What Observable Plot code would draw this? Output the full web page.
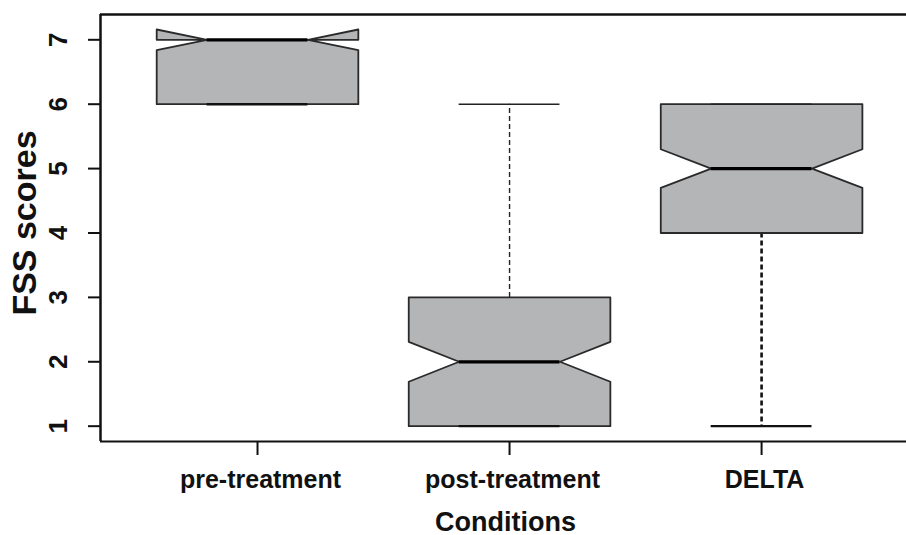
<!DOCTYPE html>
<html>
<head>
<meta charset="utf-8">
<script src="https://cdn.jsdelivr.net/npm/d3@7"></script>
<script src="https://cdn.jsdelivr.net/npm/@observablehq/plot@0.6"></script>
<style>
  html, body { margin: 0; padding: 0; background: #fff; }
  #chart svg { display: block; }
</style>
</head>
<body>
<div id="chart"></div>
<script>
// ---- data ----
const conditions  = ["pre-treatment", "post-treatment", "DELTA"];
const q1          = [6, 1, 4];
const medians     = [7, 2, 5];
const q3          = [7, 3, 6];
const whiskerLow  = [6, 1, 1];
const whiskerHigh = [7, 6, 6];
const notchLow    = [6.84, 1.69, 4.70];
const notchHigh   = [7.16, 2.31, 5.30];
const yTicks      = [1, 2, 3, 4, 5, 6, 7];
const xLabel = "Conditions";
const yLabel = "FSS scores";

// ---- layout / style constants ----
const halfW = 0.4;      // half box width (x units)
const notchFrac = 0.5;  // notch inner width fraction
const stapleHalf = 0.2;
const xDomain = [0.377, 3.575];
const yDomain = [0.762, 7.393];
const font = "Liberation Sans, Arial, Helvetica, sans-serif";
const boxFill = "#b4b5b7";

const idx = conditions.map((_, i) => i);
const pos = i => i + 1;

// notched box polygons (R bxp style)
const boxRows = [];
idx.forEach(i => {
  const xs = [-1, 1, 1, notchFrac, 1, 1, -1, -1, -notchFrac, -1];
  const ys = [q1[i], q1[i], notchLow[i], medians[i], notchHigh[i], q3[i], q3[i], notchHigh[i], medians[i], notchLow[i]];
  xs.forEach((k, j) => boxRows.push({cond: conditions[i], x: pos(i) + k * halfW, y: ys[j]}));
});

const chart = Plot.plot({
  width: 906,
  height: 535,
  marginLeft: 100,
  marginRight: 0,
  marginTop: 14,
  marginBottom: 94,
  style: {fontFamily: font, color: "#111", background: "#fff"},
  x: {type: "linear", domain: xDomain},
  y: {domain: yDomain},
  marks: [
    // frame: left, top, bottom (right side cut off in the reference)
    Plot.ruleX([xDomain[0]], {stroke: "#111", strokeWidth: 2.5}),
    Plot.ruleY([yDomain[1]], {stroke: "#111", strokeWidth: 2.5}),
    Plot.ruleY([yDomain[0]], {stroke: "#111", strokeWidth: 2}),
    // axes ticks
    Plot.axisY(yTicks, {tickSize: 12, tickFormat: () => "", label: null, strokeWidth: 2, stroke: "#111"}),
    Plot.axisX([1, 2, 3], {tickSize: 14, tickFormat: () => "", label: null, strokeWidth: 2, stroke: "#111"}),
    // y tick labels (rotated)
    Plot.text(yTicks, {y: d => d, text: d => String(d), frameAnchor: "left", dx: -42, rotate: -90,
      textAnchor: "middle", lineAnchor: "middle", fontSize: 26, fontWeight: "bold", fill: "#111"}),
    // x tick labels
    Plot.text(idx, {x: i => pos(i), text: i => conditions[i], frameAnchor: "bottom", dx: 3, dy: 46,
      lineAnchor: "bottom", fontSize: 25, fontWeight: "bold", fill: "#111"}),
    // axis titles
    Plot.text([xLabel], {frameAnchor: "bottom", dx: 2, dy: 89, lineAnchor: "bottom",
      fontSize: 27, fontWeight: "bold", fill: "#111"}),
    Plot.text([yLabel], {frameAnchor: "left", dx: -75, dy: -5, rotate: -90, lineAnchor: "middle",
      textAnchor: "middle", fontSize: 34, fontWeight: "bold", fill: "#111"}),
    // whiskers
    Plot.ruleX(idx, {x: i => pos(i), y1: i => q3[i], y2: i => whiskerHigh[i],
      stroke: "#222", strokeWidth: 1.4, strokeDasharray: "5,3"}),
    Plot.ruleX(idx, {x: i => pos(i), y1: i => q1[i], y2: i => whiskerLow[i],
      stroke: "#111", strokeWidth: 2.6, strokeDasharray: "5,3"}),
    // boxes
    Plot.line(boxRows, {x: "x", y: "y", z: "cond", curve: "linear-closed",
      fill: boxFill, stroke: "#2a2a2a", strokeWidth: 1.8}),
    // staples
    Plot.ruleY(idx, {y: i => whiskerHigh[i], x1: i => pos(i) - stapleHalf, x2: i => pos(i) + stapleHalf,
      stroke: "#222", strokeWidth: 1.6}),
    Plot.ruleY(idx, {y: i => whiskerLow[i], x1: i => pos(i) - stapleHalf, x2: i => pos(i) + stapleHalf,
      stroke: "#111", strokeWidth: 2.4}),
    // medians
    Plot.ruleY(idx, {y: i => medians[i], x1: i => pos(i) - notchFrac * halfW, x2: i => pos(i) + notchFrac * halfW,
      stroke: "#000", strokeWidth: 3.2})
  ]
});
document.getElementById("chart").appendChild(chart);
</script>
</body>
</html>
